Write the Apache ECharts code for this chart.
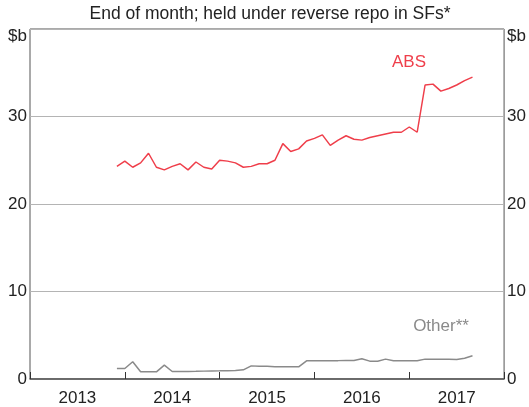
<!DOCTYPE html>
<html>
<head>
<meta charset="utf-8">
<script src="https://cdn.jsdelivr.net/npm/echarts@6/dist/echarts.min.js"></script>
<style>
  html, body { margin: 0; padding: 0; background: #fff; }
  #myChart { width: 529px; height: 407px; }
</style>
</head>
<body>
<div id="myChart"></div>
<script>
// end-of-month observations, Nov 2013 .. Aug 2017
var months = [
  '2013-11', '2013-12',
  '2014-01', '2014-02', '2014-03', '2014-04', '2014-05', '2014-06', '2014-07', '2014-08', '2014-09', '2014-10', '2014-11', '2014-12',
  '2015-01', '2015-02', '2015-03', '2015-04', '2015-05', '2015-06', '2015-07', '2015-08', '2015-09', '2015-10', '2015-11', '2015-12',
  '2016-01', '2016-02', '2016-03', '2016-04', '2016-05', '2016-06', '2016-07', '2016-08', '2016-09', '2016-10', '2016-11', '2016-12',
  '2017-01', '2017-02', '2017-03', '2017-04', '2017-05', '2017-06', '2017-07', '2017-08'
];
var absValues = [
  24.3, 24.9,
  24.2, 24.7, 25.8, 24.2, 23.9, 24.3, 24.6, 23.9, 24.8, 24.2, 24.0, 25.0,
  24.9, 24.7, 24.2, 24.3, 24.6, 24.6, 25.0, 26.9, 26.0, 26.3, 27.2, 27.5,
  27.9, 26.7, 27.3, 27.8, 27.4, 27.3, 27.6, 27.8, 28.0, 28.2, 28.2, 28.8,
  28.2, 33.6, 33.7, 32.9, 33.2, 33.6, 34.1, 34.5
];
var otherValues = [
  1.20, 1.20,
  1.97, 0.82, 0.82, 0.82, 1.58, 0.86, 0.86, 0.87, 0.88, 0.90, 0.92, 0.93,
  0.95, 0.97, 1.05, 1.50, 1.47, 1.45, 1.40, 1.39, 1.39, 1.39, 2.08, 2.08,
  2.09, 2.10, 2.10, 2.11, 2.12, 2.31, 2.04, 2.04, 2.27, 2.08, 2.08, 2.08,
  2.08, 2.27, 2.27, 2.27, 2.27, 2.23, 2.38, 2.65
];
var firstYear = 2013;
var yearLabels = ['2013', '2014', '2015', '2016', '2017'];
var yTicks = [0, 10, 20, 30, 40];

// month-end position in months since Jan 2013
function monthPos(s) {
  var p = s.split('-');
  return (+p[0] - firstYear) * 12 + (+p[1]);
}

var absData = months.map(function (m, i) { return [monthPos(m), absValues[i]]; });
var otherData = months.map(function (m, i) { return [monthPos(m), otherValues[i]]; });

var font = '"Liberation Sans", Arial, sans-serif';
var textColor = '#222';

function yLabel(v) {
  return v === yTicks[yTicks.length - 1] ? '{u|$b}' : String(v);
}

var yBase = {
  type: 'value',
  min: 0,
  max: 40,
  interval: 10,
  axisLine: { show: false },
  axisTick: { show: false },
  axisLabel: {
    fontFamily: font, fontSize: 17, color: textColor,
    formatter: yLabel,
    rich: { u: { fontFamily: font, fontSize: 17, color: textColor, padding: [15, 0, 0, 0] } }
  }
};

var option = {
  animation: false,
  backgroundColor: '#fff',
  grid: {
    left: 30, right: 23, top: 29, bottom: 28,
    show: true, borderColor: '#555', borderWidth: 1
  },
  xAxis: [{
    type: 'value', min: 0, max: 60, interval: 12,
    axisLine: { onZero: false, lineStyle: { color: '#555', width: 1.5 } },
    axisTick: { inside: true, length: 7, lineStyle: { color: '#333', width: 1 } },
    axisLabel: { show: false },
    splitLine: { show: false }
  }, {
    type: 'value', min: 0, max: 60, interval: 6, position: 'bottom',
    axisLine: { show: false },
    axisTick: { show: false },
    splitLine: { show: false },
    axisLabel: {
      fontFamily: font, fontSize: 17, color: textColor, margin: 11,
      formatter: function (v) {
        return v % 12 === 6 ? yearLabels[(v - 6) / 12] : '';
      }
    }
  }],
  yAxis: [
    Object.assign({}, yBase, {
      position: 'left',
      axisLabel: Object.assign({}, yBase.axisLabel, { margin: 3 }),
      splitLine: { show: true, lineStyle: { color: '#b4b4b4', width: 1 } }
    }),
    Object.assign({}, yBase, {
      position: 'right',
      axisLabel: Object.assign({}, yBase.axisLabel, { margin: 3 }),
      splitLine: { show: false }
    })
  ],
  graphic: [
    { type: 'text', x: 270, y: 5,
      style: { text: 'End of month; held under reverse repo in SFs*', font: '17.5px ' + font, fill: textColor, align: 'center' } },
    { type: 'text', x: 409, y: 62,
      style: { text: 'ABS', font: '17px ' + font, fill: '#ef3e4a', align: 'center', verticalAlign: 'middle' } },
    { type: 'text', x: 441, y: 326,
      style: { text: 'Other**', font: '17px ' + font, fill: '#8a8a8a', align: 'center', verticalAlign: 'middle' } }
  ],
  series: [{
    name: 'ABS', type: 'line', data: absData, xAxisIndex: 0, yAxisIndex: 0,
    showSymbol: false, lineStyle: { color: '#ef3e4a', width: 1.5 }
  }, {
    name: 'Other', type: 'line', data: otherData, xAxisIndex: 0, yAxisIndex: 0,
    showSymbol: false, lineStyle: { color: '#8a8a8a', width: 1.5 }
  }]
};

var myChart = echarts.init(document.getElementById('myChart'));
myChart.setOption(option);

window.onresize = function () {
  myChart.resize();
};
</script>
</body>
</html>
